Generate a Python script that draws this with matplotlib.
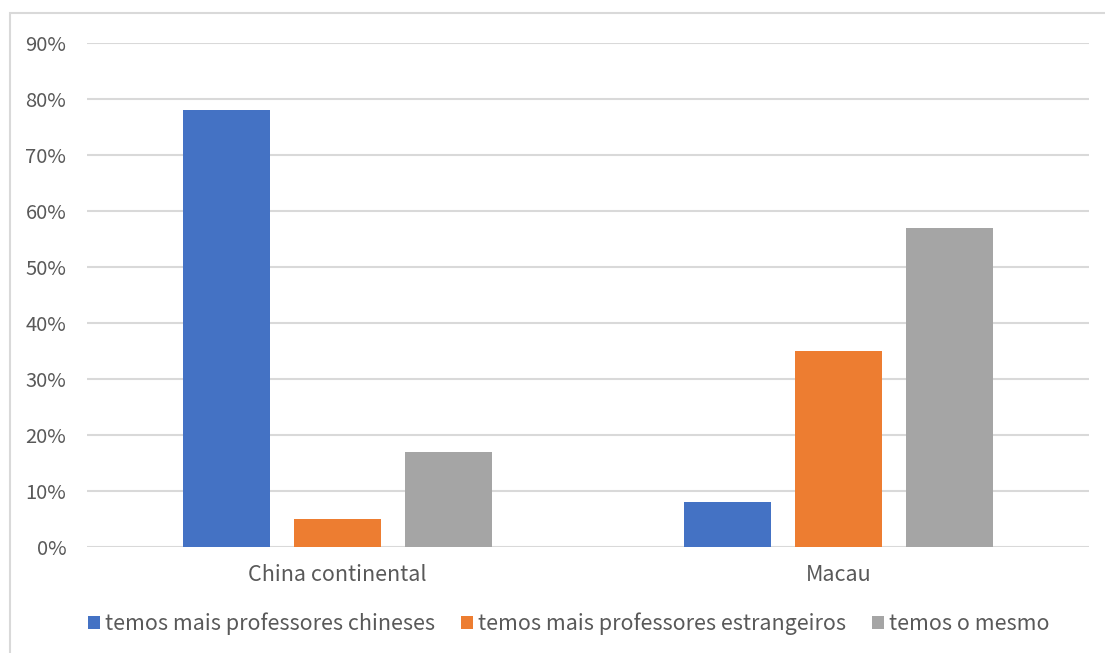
import numpy as np
import matplotlib.pyplot as plt
from matplotlib.patches import Rectangle

plt.rcParams['font.family'] = ['Noto Sans CJK SC', 'DejaVu Sans']

# === Datos ===
categorias = ["China continental", "Macau"]
series = ["temos mais professores chineses",
          "temos mais professores estrangeiros",
          "temos o mesmo"]
valores = [
    [78, 8],
    [5, 35],
    [17, 57],
]
colores = ["#4472C4", "#ED7D31", "#A5A5A5"]
yticks = [0, 10, 20, 30, 40, 50, 60, 70, 80, 90]

# === Figura ===
fig = plt.figure(figsize=(11.05, 6.53), dpi=100)
fig.patches.append(Rectangle((10 / 1105, -0.1), 1.2, 1 - 13 / 653 + 0.1,
                             transform=fig.transFigure, fill=False,
                             edgecolor="#d9d9d9", linewidth=1.5))
ax = fig.add_axes([87 / 1105, 1 - 547 / 653, 1002 / 1105, 504 / 653])

x = np.arange(len(categorias))
ancho = 0.174
paso = 0.2216
for i, (s, v, c) in enumerate(zip(series, valores, colores)):
    ax.bar(x + (i - 1) * paso, v, width=ancho, color=c, label=s, zorder=3)

ax.set_xlim(-0.5, 1.5)
ax.set_ylim(0, 90)
ax.set_yticks(yticks)
ax.set_yticklabels([f"{t}%" for t in yticks])
ax.set_xticks(x)
ax.set_xticklabels(categorias)
ax.grid(axis="y", color="#d9d9d9", linewidth=1.5, zorder=0)
ax.tick_params(axis="y", length=0, colors="#595959", labelsize=14.5, pad=15)
ax.tick_params(axis="x", length=0, colors="#595959", labelsize=15.5, pad=12)
for sp in ax.spines.values():
    sp.set_visible(False)

leg = fig.legend(loc="center", bbox_to_anchor=(0.515, 1 - 624 / 653), ncol=3,
                 frameon=False, fontsize=15.5, handlelength=0.55, handleheight=0.55,
                 handletextpad=0.25, columnspacing=1.2, labelcolor="#595959")

plt.savefig("out.png", dpi=100)
